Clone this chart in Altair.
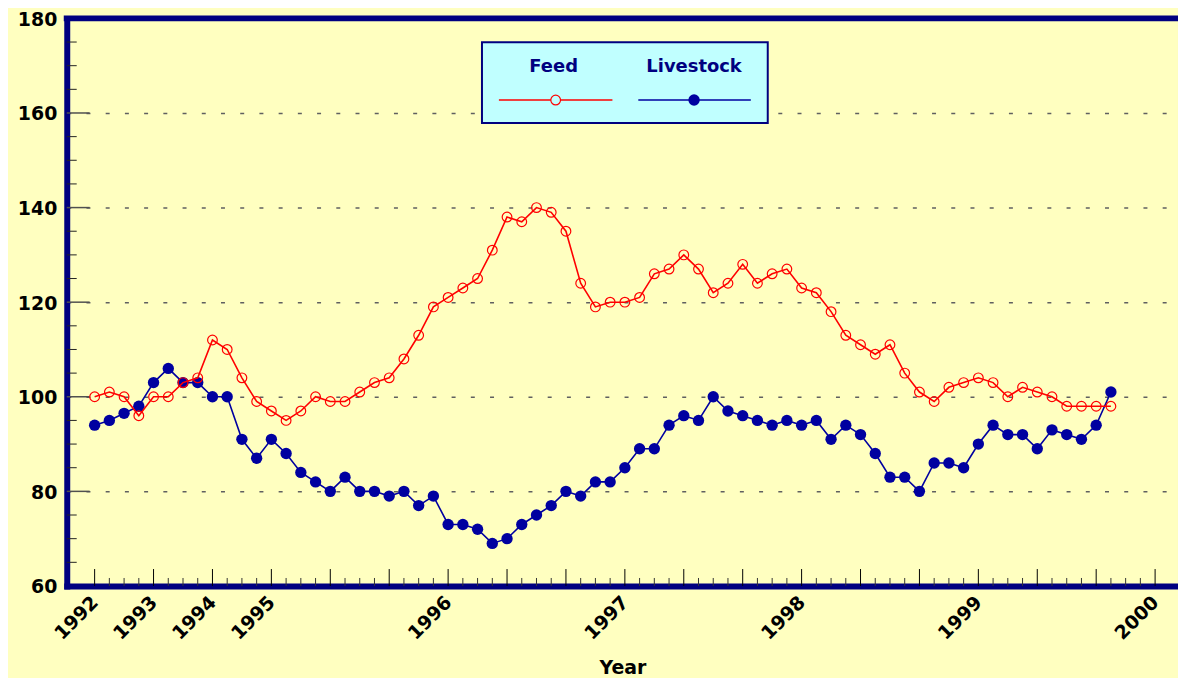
import altair as alt
import pandas as pd

# ---- data (monthly index) ----
feed = [100, 101, 100, 96, 100, 100, 103, 104, 112, 110,
        104, 99, 97, 95, 97, 100, 99, 99, 101, 103,
        104, 108, 113, 119, 121, 123, 125, 131, 138, 137,
        140, 139, 135, 124, 119, 120, 120, 121, 126, 127,
        130, 127, 122, 124, 128, 124, 126, 127, 123, 122,
        118, 113, 111, 109, 111, 105, 101, 99, 102, 103,
        104, 103, 100, 102, 101, 100, 98, 98, 98, 98]
livestock = [94, 95, 96.5, 98, 103, 106, 103, 103, 100, 100,
             91, 87, 91, 88, 84, 82, 80, 83, 80, 80,
             79, 80, 77, 79, 73, 73, 72, 69, 70, 73,
             75, 77, 80, 79, 82, 82, 85, 89, 89, 94,
             96, 95, 100, 97, 96, 95, 94, 95, 94, 95,
             91, 94, 92, 88, 83, 83, 80, 86, 86, 85,
             90, 94, 92, 92, 89, 93, 92, 91, 94, 101]
series_names = ["Feed", "Livestock"]
year_labels = ["1992", "1993", "1994", "1995", "1996", "1997", "1998", "1999", "2000"]
year_positions = [0, 4, 8, 12, 24, 36, 48, 60, 72]
y_ticks = [60, 80, 100, 120, 140, 160, 180]

W, H = 1116, 570
NAVY = "#000080"
RED = "#FF0000"
BLUE = "#0000A0"
FONT = "DejaVu Sans"

feed_df = pd.DataFrame({"i": list(range(len(feed))), "v": feed})
live_df = pd.DataFrame({"i": list(range(len(livestock))), "v": livestock})
one = pd.DataFrame({"k": [0]})

x_major = pd.DataFrame({"i": [k for k in range(0, 73) if k % 4 == 0]})
x_minor = pd.DataFrame({"i": [k for k in range(0, 73) if k % 4 != 0]})
y_major = pd.DataFrame({"v": [k for k in range(80, 180, 20)]})
y_minor = pd.DataFrame({"v": [k for k in range(65, 180, 5) if k % 20 != 0]})

label_expr = "".join(
    f"datum.value == {p} ? '{l}' : " for p, l in zip(year_positions, year_labels)
) + "''"

px = 1065 / 72.0
d0 = -28 / px
d1 = d0 + W / px

xscale = alt.Scale(domain=[d0, d1], nice=False, zero=False)
yscale = alt.Scale(domain=[60, 180], nice=False, zero=False)

x_axis = alt.Axis(values=year_positions, labelExpr=label_expr, labelAngle=315,
                  labelAlign="right", labelBaseline="middle", labelPadding=13,
                  labelFont=FONT, labelFontWeight="bold", labelFontSize=19,
                  labelColor="black", labelFlush=False, labelOverlap=False,
                  ticks=False, grid=False, domain=True, domainColor=NAVY,
                  domainWidth=6, domainCap="square",
                  title="Year", titleFont=FONT, titleFontWeight="bold",
                  titleFontSize=19, titleColor="black", titleY=88,
                  titleBaseline="alphabetic")
y_axis = alt.Axis(values=y_ticks, labelFont=FONT, labelFontWeight="bold",
                  labelFontSize=19, labelColor="black", labelPadding=10,
                  labelOffset=1, labelFlush=False,
                  ticks=False, grid=True, gridColor="#606060", gridWidth=1.5,
                  gridDash=[4, 15.3], domain=True, domainColor=NAVY,
                  domainWidth=6, domainCap="square", title=None)

X = alt.X("i:Q", scale=xscale, axis=x_axis)
Y = alt.Y("v:Q", scale=yscale, axis=y_axis)

# axis frame + ticks
base_axes = alt.Chart(feed_df).mark_point(opacity=0).encode(x=X, y=Y)

xt_major = alt.Chart(x_major).mark_rule(color="black", strokeWidth=1).encode(
    x=alt.X("i:Q", scale=xscale), y=alt.value(H - 17), y2=alt.value(H))
xt_minor = alt.Chart(x_minor).mark_rule(color="#333333", strokeWidth=1).encode(
    x=alt.X("i:Q", scale=xscale), y=alt.value(H - 8), y2=alt.value(H))
yt_major = alt.Chart(y_major).mark_rule(color="#505050", strokeWidth=1.5).encode(
    y=alt.Y("v:Q", scale=yscale), x=alt.value(0), x2=alt.value(23))
yt_minor = alt.Chart(y_minor).mark_rule(color="#222222", strokeWidth=1).encode(
    y=alt.Y("v:Q", scale=yscale), x=alt.value(0), x2=alt.value(10))

top_border = alt.Chart(one).mark_rule(color=NAVY, strokeWidth=6, strokeCap="square").encode(
    x=alt.value(0), x2=alt.value(W), y=alt.value(0))

# series
live_line = alt.Chart(live_df).mark_line(color=BLUE, strokeWidth=1.6).encode(
    x=alt.X("i:Q", scale=xscale), y=alt.Y("v:Q", scale=yscale))
live_pts = alt.Chart(live_df).mark_point(shape="circle", filled=True, color=BLUE,
                                         opacity=1, size=130).encode(
    x=alt.X("i:Q", scale=xscale), y=alt.Y("v:Q", scale=yscale))
feed_line = alt.Chart(feed_df).mark_line(color=RED, strokeWidth=1.6).encode(
    x=alt.X("i:Q", scale=xscale), y=alt.Y("v:Q", scale=yscale))
feed_pts = alt.Chart(feed_df).mark_point(shape="circle", filled=False, color=RED,
                                         opacity=1, size=95, strokeWidth=1.2).encode(
    x=alt.X("i:Q", scale=xscale), y=alt.Y("v:Q", scale=yscale))

# legend (drawn by hand: label above a line-and-marker sample)
leg_box = alt.Chart(one).mark_rect(fill="#C0FFFF", stroke=NAVY, strokeWidth=2).encode(
    x=alt.value(417), x2=alt.value(704), y=alt.value(24), y2=alt.value(105))
leg_feed_txt = alt.Chart(one).mark_text(text=series_names[0], font=FONT, fontWeight="bold",
                                        fontSize=18, color=NAVY, align="center",
                                        baseline="middle").encode(
    x=alt.value(489), y=alt.value(49))
leg_live_txt = alt.Chart(one).mark_text(text=series_names[1], font=FONT, fontWeight="bold",
                                        fontSize=18, color=NAVY, align="center",
                                        baseline="middle").encode(
    x=alt.value(630), y=alt.value(49))
leg_feed_line = alt.Chart(one).mark_rule(color=RED, strokeWidth=1.6).encode(
    x=alt.value(434), x2=alt.value(548), y=alt.value(82))
leg_feed_pt = alt.Chart(one).mark_point(shape="circle", filled=True, fill="#C0FFFF",
                                        stroke=RED, opacity=1, size=95,
                                        strokeWidth=1.2).encode(
    x=alt.value(491), y=alt.value(82))
leg_live_line = alt.Chart(one).mark_rule(color=BLUE, strokeWidth=1.6).encode(
    x=alt.value(574), x2=alt.value(687), y=alt.value(82))
leg_live_pt = alt.Chart(one).mark_point(shape="circle", filled=True, color=BLUE,
                                        opacity=1, size=130).encode(
    x=alt.value(630), y=alt.value(82))

chart = alt.layer(
    base_axes, yt_major, yt_minor, xt_major, xt_minor,
    live_line, live_pts, feed_line, feed_pts,
    leg_box, leg_feed_txt, leg_live_txt, leg_feed_line, leg_feed_pt,
    leg_live_line, leg_live_pt, top_border,
).properties(
    width=W, height=H,
    autosize=alt.AutoSizeParams(type="none"),
    padding={"left": 59, "top": 9, "right": 0, "bottom": 91},
    background="#FFFFC0",
).configure_view(stroke="#9a9a9a", strokeWidth=1)

chart.save("out.html", embed_options={"renderer": "svg", "actions": False})
